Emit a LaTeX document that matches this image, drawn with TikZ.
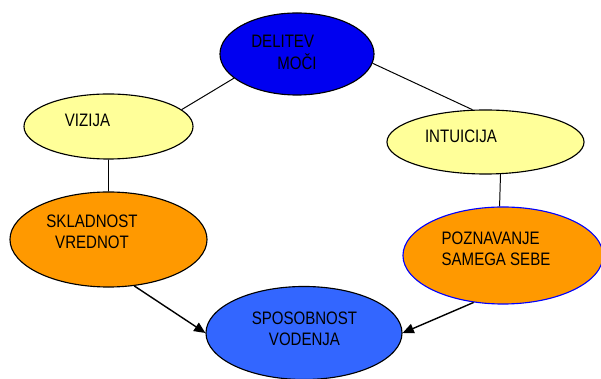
\documentclass[tikz,border=0pt]{standalone}
\usepackage{fontspec}
\usepackage{graphicx}
\setmainfont{Liberation Sans}
\usetikzlibrary{arrows.meta,shapes.geometric}
\definecolor{darkblue}{HTML}{0000F0}
\definecolor{midblue}{HTML}{3366FF}
\definecolor{paleyellow}{HTML}{FFFF99}
\definecolor{orange}{HTML}{FF9900}
\newcommand{\tallc}[1]{\scalebox{1}[1.2]{\begin{tabular}{@{}c@{}}#1\end{tabular}}}
\newcommand{\talll}[1]{\scalebox{1}[1.2]{\begin{tabular}{@{}l@{}}#1\end{tabular}}}
\begin{document}
\begin{tikzpicture}[x=0.025cm,y=-0.025cm]
		\tikzstyle{oval}=[ellipse,draw=black,line width=0.8pt,inner sep=0pt]
		\tikzstyle{txt}=[inner sep=0pt,font=\fontsize{10.7pt}{12.4pt}\selectfont]
		\useasboundingbox (0,0) rectangle (601,379);
		\node[oval,fill=darkblue,minimum width=3.85cm,minimum height=2.05cm] (e_1) at (297,54) {};
		\node[oval,fill=paleyellow,minimum width=4.225cm,minimum height=1.625cm] (e_2) at (108.5,126.5) {};
		\node[oval,fill=paleyellow,minimum width=4.925cm,minimum height=1.6cm] (e_3) at (485.5,142) {};
		\node[oval,fill=orange,minimum width=4.925cm,minimum height=2.375cm] (e_4) at (108.5,239.5) {};
		\node[oval,fill=orange,draw=blue,minimum width=5cm,minimum height=2.425cm] (e_5) at (503,255.5) {};
		\node[oval,fill=midblue,minimum width=4.9cm,minimum height=2.325cm] (e_6) at (304,333) {};
		\node[txt] (t_1) at (284,54.5) {\talll{DELITEV\\\hspace*{18.5pt}MOČI}};
		\node[txt] (t_2) at (87.5,122) {\tallc{VIZIJA}};
		\node[txt] (t_3) at (461,138) {\tallc{INTUICIJA}};
		\node[txt] (t_4) at (92,234) {\tallc{SKLADNOST\\VREDNOT}};
		\node[txt] (t_5) at (496,251) {\talll{POZNAVANJE\\SAMEGA SEBE}};
		\node[txt] (t_6) at (304.5,331) {\tallc{SPOSOBNOST\\VODENJA}};
		\draw[line width=0.7pt] (e_2.13) -- (e_1.201) (e_1.353) -- (e_3.112) (e_2.south) -- (e_4.north) (e_3.-65) -- (e_5.94);
		\draw[line width=1pt,-{Triangle[length=8pt,width=7pt]}] (e_4.-61) -- (e_6.west);
		\draw[line width=1pt,-{Triangle[length=8pt,width=7pt]}] (e_5.238) -- (e_6.east);
	\end{tikzpicture}
\end{document}
